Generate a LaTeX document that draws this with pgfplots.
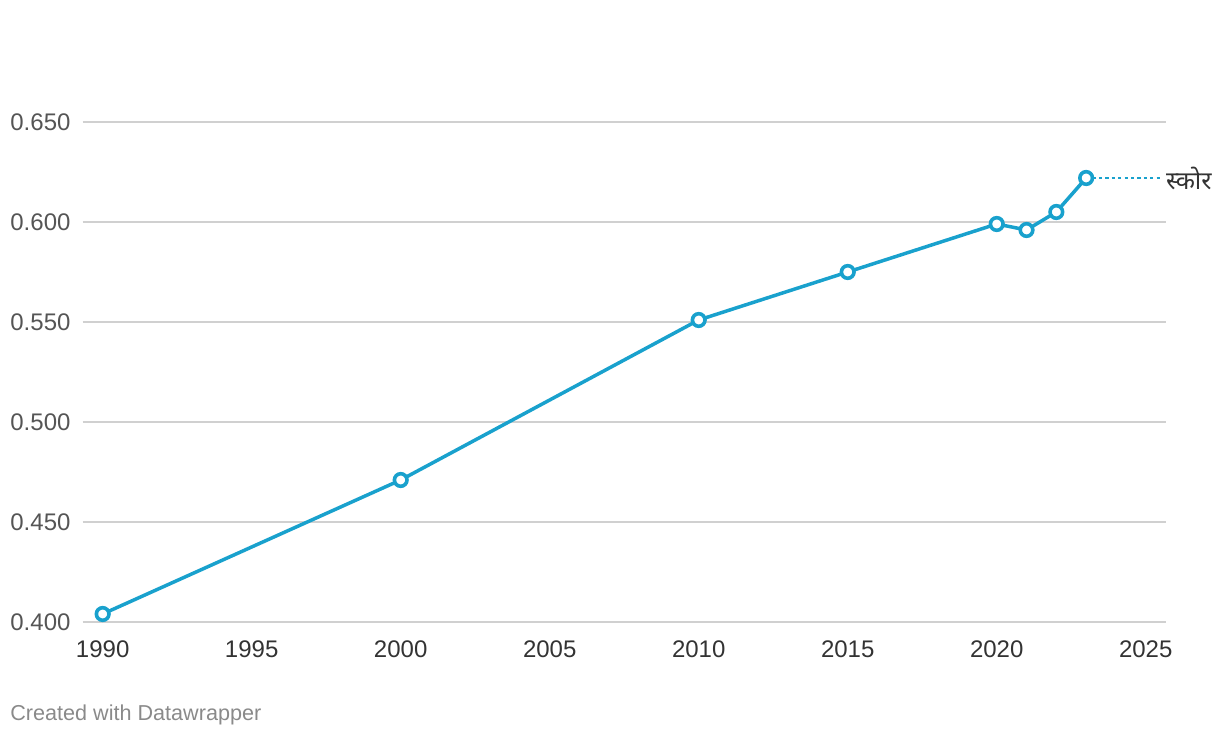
\documentclass[border=0pt]{standalone}
\usepackage{fontspec}
\setmainfont{Liberation Sans}
\newfontfamily\devfont[Script=Devanagari]{Noto Sans}
\usepackage{pgfplots}
\pgfplotsset{compat=1.18}
\definecolor{dwblue}{HTML}{19A1CD}
\definecolor{gridgrey}{HTML}{D0D0D0}
\definecolor{ylab}{HTML}{555555}
\definecolor{xlab}{HTML}{333333}
\definecolor{foot}{HTML}{8A8A8A}
\begin{document}
\begin{tikzpicture}
\begin{axis}[
  at={(41.35pt,58pt)}, anchor=south west,
  scale only axis, width=541.65pt, height=250pt,
  xmin=1989.33, xmax=2025.68, ymin=0.4, ymax=0.65,
  clip=false,
  axis x line*=bottom, axis y line*=left,
  x axis line style={draw=none}, y axis line style={draw=none},
  major tick length=0pt,
  ymajorgrids, grid style={gridgrey, line width=0.6pt},
  xtick={1990,1995,2000,2005,2010,2015,2020,2025},
  ytick={0.4,0.45,0.5,0.55,0.6,0.65},
  /pgf/number format/assume math mode=true,
  xticklabel style={/pgf/number format/1000 sep={}, font=\fontsize{12}{14}\selectfont, text=xlab, anchor=north, inner sep=0pt, yshift=-9pt},
  yticklabel style={/pgf/number format/fixed, /pgf/number format/fixed zerofill, /pgf/number format/precision=3, font=\fontsize{12}{14}\selectfont, text=ylab, anchor=west, inner sep=0pt, xshift=-36.35pt},
]
\addplot[dwblue, line width=0.9pt, dash pattern=on 1.6pt off 1.6pt] coordinates {(2023,0.622) (2025.55,0.622)}
  node[pos=1, anchor=west, inner sep=0pt, xshift=1.5pt, text=xlab, font=\devfont\fontsize{12.5}{14}\selectfont] {स्कोर};
\addplot[dwblue, line width=1.75pt, mark=*, mark options={fill=white, draw=dwblue, line width=1.8pt}, mark size=3.15pt] coordinates {
(1990,0.404) (2000,0.471) (2010,0.551) (2015,0.575) (2020,0.599) (2021,0.596) (2022,0.605) (2023,0.622)};
\end{axis}
\node[anchor=west, inner sep=0pt, text=foot, font=\fontsize{10.8}{13}\selectfont] at (5pt,11.5pt) {Created with Datawrapper};
\pgfresetboundingbox
\path[use as bounding box] (0,0) rectangle (610pt,369pt);
\end{tikzpicture}
\end{document}
